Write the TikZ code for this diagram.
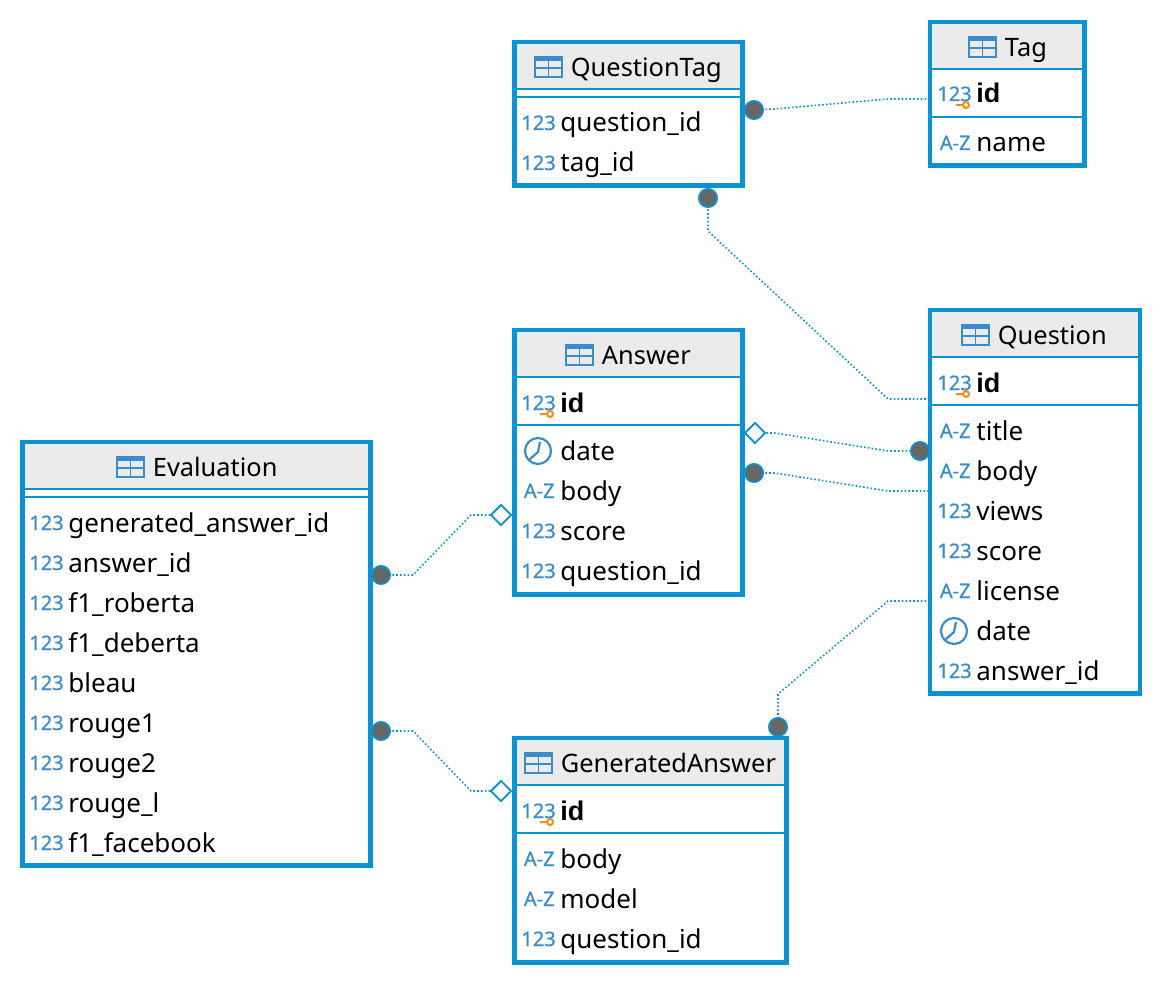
\documentclass[tikz,border=0pt]{standalone}
\usepackage{fontspec}
\setmainfont{Noto Sans}
\newfontfamily\idfont{Liberation Sans}
\newfontfamily\iconfont{Noto Sans}[FakeBold=0.6]
\usetikzlibrary{fit,shapes.geometric}

\definecolor{framecol}{HTML}{0A93D3}
\definecolor{iconcol}{HTML}{3A8CCB}
\definecolor{headcol}{HTML}{EBEBEB}
\definecolor{dotcol}{HTML}{666666}
\definecolor{keycol}{HTML}{F28C1E}

\tikzset{
  tableframe/.style={draw=framecol, line width=2.1pt, inner sep=0pt},
  tablehead/.style={draw=framecol, line width=1pt, fill=headcol, inner sep=0pt},
  tablerule/.style={draw=framecol, line width=1pt},
  titletext/.style={anchor=base west, inner sep=0pt, font=\fontsize{12.7}{15}\selectfont},
  coltext/.style={anchor=base west, inner sep=0pt, font=\fontsize{13}{15}\selectfont},
  idtext/.style={coltext, font=\idfont\bfseries\fontsize{13.5}{15}\selectfont},
  icontext/.style={anchor=base west, inner sep=0pt, text=iconcol, font=\iconfont\fontsize{10}{12}\selectfont},
  iconline/.style={draw=iconcol, line width=0.9pt},
  link/.style={draw=framecol, line width=0.8pt, dash pattern=on 0.8pt off 1.1pt},
  onedot/.style={circle, draw=framecol, fill=dotcol, line width=0.8pt, minimum size=9.2pt, inner sep=0pt},
  optdiamond/.style={diamond, draw=framecol, fill=white, line width=0.9pt, minimum size=10.4pt, inner sep=0pt},
}

% name, x0, y0, x1, y1, icon x, title
\newcommand{\ertable}[7]{
  \node (#1-head) [tablehead, fit={(#2,#3) (#4,#3+47)}] {};
  \node (#1) [tableframe, fit={(#2,#3) (#4,#5)}] {};
  \draw[iconline, fill=iconcol] (#6,#3+15) rectangle (#6+27,#3+18);
  \draw[iconline] (#6,#3+15) rectangle (#6+27,#3+35) (#6+13.5,#3+18) -- (#6+13.5,#3+35) (#6,#3+26) -- (#6+27,#3+26);
  \node (#1-title) [titletext] at (#6+35.5,#3+34.5) {#7};
}
% name, table left, y, text
\newcommand{\iconnum}[3]{\node (#1-icon) [icontext] at (#2+6,#3+7) {123};}
\newcommand{\iconaz}[3]{\node (#1-icon) [icontext] at (#2+8.5,#3+7) {A-Z};}
\newcommand{\iconclock}[3]{
  \draw[iconline, line width=1.1pt] (#2+23,#3) circle (13) (#2+25,#3-9) -- (#2+23,#3+1) -- (#2+15,#3+8);
}
\newcommand{\iconkey}[3]{
  \iconnum{#1}{#2}{#3}
  \draw[draw=keycol, line width=1pt] (#2+25,#3+11) -- (#2+32,#3+11) (#2+35,#3+11) circle (3);
}
\newcommand{\colrow}[5]{
  \csname icon#4\endcsname{#1}{#2}{#3}
  \node (#1) [coltext] at (#2+45,#3+9) {#5};
}

\begin{document}
\begin{tikzpicture}[x=0.5pt, y=-0.5pt]
  \useasboundingbox (0,0) rectangle (1162,984);

  \ertable{questiontag}{514.5}{42}{742.5}{185.5}{535}{QuestionTag}
  \ertable{tag}{930}{22}{1084.5}{165.5}{969}{Tag}
  \ertable{question}{930}{310}{1140}{693.5}{962}{Question}
  \ertable{answer}{514.5}{330}{742.5}{594.5}{566}{Answer}
  \ertable{evaluation}{22.5}{442}{370.5}{865.5}{117}{Evaluation}
  \ertable{generated}{514.5}{738}{786.5}{962.5}{525}{GeneratedAnswer}

  % separators below the key part
  \draw[tablerule] (515,97) -- (742,97);
  \draw[tablerule] (931,117) -- (1084,117);
  \draw[tablerule] (931,405) -- (1139,405);
  \draw[tablerule] (515,425) -- (742,425);
  \draw[tablerule] (23,497) -- (370,497);
  \draw[tablerule] (515,833) -- (786,833);

  \foreach \nm/\yy/\kind/\txt in {
    qt-question/123/num/question\_id, qt-tag/163/num/tag\_id,
    an-date/451/clock/date, an-body/491/az/body, an-score/531/num/score, an-question/571/num/question\_id,
    ga-body/859/az/body, ga-model/899/az/model, ga-question/939/num/question\_id}
    {\colrow{\nm}{515}{\yy}{\kind}{\txt}}
  \foreach \nm/\yy/\kind/\txt in {
    qu-title/431/az/title, qu-body/471/az/body, qu-views/511/num/views, qu-score/551/num/score,
    qu-license/591/az/license, qu-date/631/clock/date, qu-answer/671/num/answer\_id,
    ta-name/143/az/name}
    {\colrow{\nm}{931}{\yy}{\kind}{\txt}}
  \foreach \nm/\yy/\txt in {
    ev-generated/523/generated\_answer\_id, ev-answer/563/answer\_id, ev-roberta/603/f1\_roberta,
    ev-deberta/643/f1\_deberta, ev-bleau/683/bleau, ev-rouge1/723/rouge1, ev-rouge2/763/rouge2,
    ev-rougel/803/rouge\_l, ev-facebook/843/f1\_facebook}
    {\colrow{\nm}{23}{\yy}{num}{\txt}}

  \iconkey{ta-id}{931}{94}
  \node (ta-id) [idtext] at (976,103) {id};
  \iconkey{qu-id}{931}{383}
  \node (qu-id) [idtext] at (976,392) {id};
  \iconkey{an-id}{515}{403}
  \node (an-id) [idtext] at (560,412) {id};
  \iconkey{ga-id}{515}{811}
  \node (ga-id) [idtext] at (560,820) {id};

  % connector ends on the tables
  \coordinate (tag-port) at (930,99);
  \coordinate (question-port1) at (930,399);
  \coordinate (question-port2) at (930,491);
  \coordinate (question-port3) at (930,601);

  \draw[link] (754,110) coordinate (qt-out) -- (774,109) -- (888,99) -- (tag-port);
  \draw[link] (708,198) coordinate (qb-out) -- (708,231) -- (888,399) -- (question-port1);
  \draw[link] (755,433) coordinate (an-out1) -- (775,433) -- (888,451) -- (920,451) coordinate (qu-in);
  \draw[link] (754,473) coordinate (an-out2) -- (775,473) -- (888,491) -- (question-port2);
  \draw[link] (381,575) coordinate (ev-out1) -- (413,575) -- (471,515) -- (501,515) coordinate (an-in);
  \draw[link] (381,731) coordinate (ev-out2) -- (413,731) -- (471,791) -- (501,791) coordinate (ga-in);
  \draw[link] (question-port3) -- (888,601) -- (778,694) -- (778,727) coordinate (ga-out);

  \node (dot-qt) [onedot] at (qt-out) {};
  \node (dot-qb) [onedot] at (qb-out) {};
  \node (dot-qu) [onedot] at (qu-in) {};
  \node (dot-an) [onedot] at (an-out2) {};
  \node (dot-ev1) [onedot] at (ev-out1) {};
  \node (dot-ev2) [onedot] at (ev-out2) {};
  \node (dot-ga) [onedot] at (ga-out) {};
  \node (dia-an1) [optdiamond] at (an-out1) {};
  \node (dia-an2) [optdiamond] at (an-in) {};
  \node (dia-ga) [optdiamond] at (ga-in) {};
\end{tikzpicture}
\end{document}
